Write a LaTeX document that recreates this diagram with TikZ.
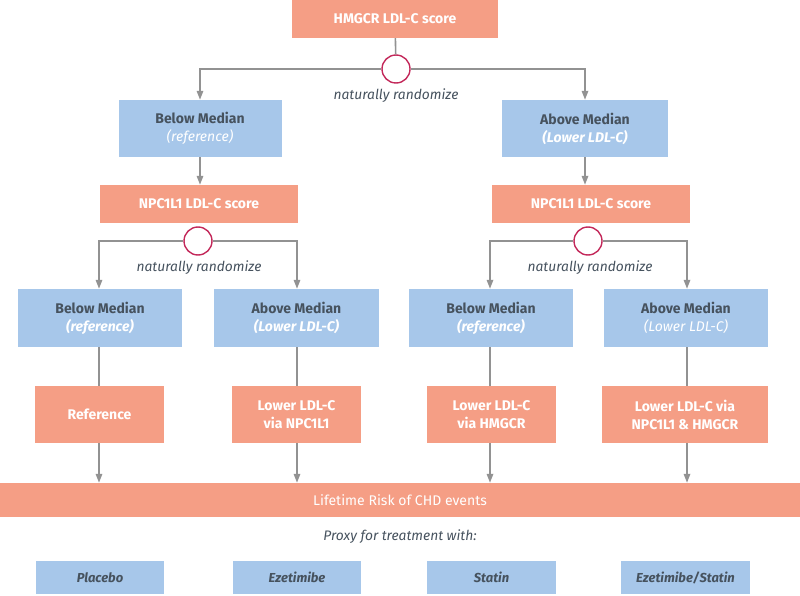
\documentclass[tikz,border=0pt]{standalone}
\usepackage{fontspec}
\setmainfont{Fira Sans}
\usetikzlibrary{arrows.meta}
\definecolor{org}{HTML}{F59E85}
\definecolor{blu}{HTML}{A7C7EA}
\definecolor{lin}{HTML}{929292}
\definecolor{crim}{HTML}{C3285A}
\definecolor{txt}{HTML}{46525E}
\begin{document}
\begin{tikzpicture}[x=1pt,y=-1pt,
  box/.style={draw=none, inner sep=0pt, align=center, minimum height=#1},
  obox/.style={box=#1, fill=org, text=white, font=\fontsize{14}{18}\selectfont\bfseries},
  bbox/.style={box=#1, fill=blu, text=txt, font=\fontsize{14}{18}\selectfont\bfseries},
  pbox/.style={box=#1, fill=blu, text=txt, font=\fontsize{13}{15}\selectfont\itshape\bfseries},
  rnd/.style={circle, draw=crim, line width=1.4pt, fill=white, minimum size=28pt, inner sep=0pt},
  lab/.style={text=txt, font=\fontsize{13.8}{16}\selectfont\itshape},
  con/.style={draw=lin, line width=1.6pt},
  arr/.style={con, -{Triangle[width=6.5pt,length=9pt]}}
]
\useasboundingbox (0,0) rectangle (800,596);

% top level
\node[obox=38pt, minimum width=206pt] (top) at (395,19) {HMGCR LDL-C score};
\node[rnd] (c1) at (396,69) {};
\node[lab] (r1) at (396,96) {naturally randomize};
\node[bbox=57pt, minimum width=163pt] (la) at (200,128.5) {Below Median\\{\color{white}\mdseries\itshape (reference)}};
\node[bbox=57pt, minimum width=166pt] (lb) at (585,128.5) {Above Median\\{\color{white}\itshape (Lower LDL-C)}};
\coordinate (ka) at (200,69);
\coordinate (kb) at (585,69);
\draw[con] (top) -- (c1);
\draw[arr] (c1) -- (ka) -- (la);
\draw[arr] (c1) -- (kb) -- (lb);

% NPC1L1 level
\node[obox=38pt, minimum width=198pt] (na) at (199,204) {NPC1L1 LDL-C score};
\node[obox=38pt, minimum width=198pt] (nb) at (591,204) {NPC1L1 LDL-C score};
\draw[arr] (la) -- (la.south |- na.north);
\draw[arr] (lb) -- (lb.south |- nb.north);

\node[rnd] (c2a) at (198,241) {};
\node[rnd] (c2b) at (588,241) {};
\node[lab] (r2a) at (199,268) {naturally randomize};
\node[lab] (r2b) at (590,268) {naturally randomize};

\node[bbox=58pt, minimum width=164pt] (b1) at (100,318) {Below Median\\{\color{white}\itshape (reference)}};
\node[bbox=58pt, minimum width=165pt] (b2) at (296.5,318) {Above Median\\{\color{white}\itshape (Lower LDL-C)}};
\node[bbox=58pt, minimum width=164pt] (b3) at (491,318) {Below Median\\{\color{white}\itshape (reference)}};
\node[bbox=58pt, minimum width=164pt] (b4) at (686,318) {Above Median\\{\color{white}\mdseries\itshape (Lower LDL-C)}};

\coordinate (k1) at (99,241);
\coordinate (k2) at (297,241);
\coordinate (k3) at (490,241);
\coordinate (k4) at (687,241);
\draw[arr] (c2a) -- (k1) -- (k1 |- b1.north);
\draw[arr] (c2a) -- (k2) -- (k2 |- b2.north);
\draw[arr] (c2b) -- (k3) -- (k3 |- b3.north);
\draw[arr] (c2b) -- (k4) -- (k4 |- b4.north);

% outcome boxes
\node[obox=57pt, minimum width=129pt] (o1) at (99.5,414.5) {Reference};
\node[obox=57pt, minimum width=129pt] (o2) at (296.5,414.5) {Lower LDL-C\\via NPC1L1};
\node[obox=57pt, minimum width=129pt] (o3) at (491.5,414.5) {Lower LDL-C\\via HMGCR};
\node[obox=57pt, minimum width=166pt] (o4) at (685,414.5) {Lower LDL-C via\\NPC1L1 \& HMGCR};

\draw[con] (k1 |- b1.south) -- (k1 |- o1.north);
\draw[con] (k2 |- b2.south) -- (k2 |- o2.north);
\draw[con] (k3 |- b3.south) -- (k3 |- o3.north);
\draw[con] (k4 |- b4.south) -- (k4 |- o4.north);

% bar
\node[obox=34pt, minimum width=800pt, font=\fontsize{14}{16.5}\selectfont\mdseries] (bar) at (400,500) {Lifetime Risk of CHD events};
\draw[arr] (k1 |- o1.south) -- (k1 |- bar.north);
\draw[arr] (k2 |- o2.south) -- (k2 |- bar.north);
\draw[arr] (k3 |- o3.south) -- (k3 |- bar.north);
\draw[arr] (k4 |- o4.south) -- (k4 |- bar.north);

\node[lab] (px) at (400,537) {Proxy for treatment with:};

\node[pbox=33pt, minimum width=128pt] (p1) at (100,577.5) {Placebo};
\node[pbox=33pt, minimum width=128pt] (p2) at (297,577.5) {Ezetimibe};
\node[pbox=33pt, minimum width=129pt] (p3) at (491.5,577.5) {Statin};
\node[pbox=33pt, minimum width=129pt] (p4) at (685.5,577.5) {Ezetimibe/Statin};
\end{tikzpicture}
\end{document}
